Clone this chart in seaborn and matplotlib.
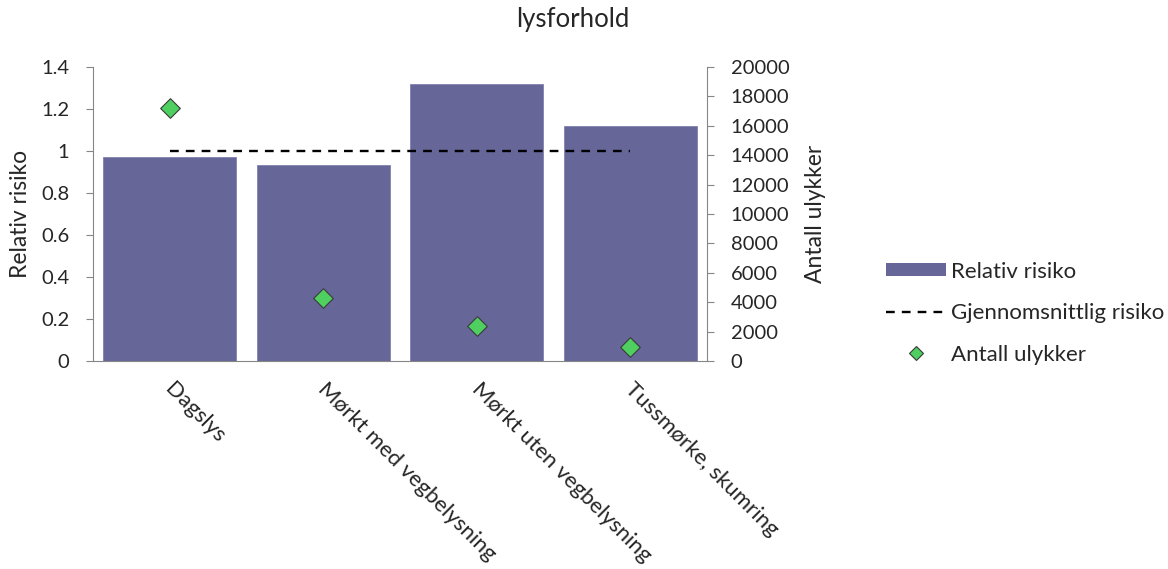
import matplotlib
matplotlib.use("Agg")
import matplotlib.pyplot as plt
import matplotlib.transforms as mtransforms
import seaborn as sns
import numpy as np
import pandas as pd
from matplotlib.patches import Patch
from matplotlib.lines import Line2D

# --- data -------------------------------------------------------------
categories = ["Dagslys", "Mørkt med vegbelysning", "Mørkt uten vegbelysning", "Tussmørke, skumring"]
relativ_risiko = [0.97, 0.932, 1.317, 1.117]
gjennomsnittlig_risiko = [1.0, 1.0, 1.0, 1.0]
antall_ulykker = [17200, 4300, 2360, 950]

risk_ticks = [0, 0.2, 0.4, 0.6, 0.8, 1.0, 1.2, 1.4]
count_ticks = list(range(0, 20001, 2000))

# --- style ------------------------------------------------------------
sns.set_theme(style="white")
plt.rcParams["font.family"] = ["Lato", "DejaVu Sans"]
FS_NUM = 14.5     # tick numbers
FS_TXT = 16.5     # axis labels
FS_CAT = 16.0     # category names
FS_LEG = 16.0
FS_TITLE = 18.5
AXIS_GRAY = "#868686"
BAR_COLOR = "#666699"
DIAMOND_COLOR = "#4fcf5f"

df = pd.DataFrame({"kategori": categories, "risiko": relativ_risiko,
                   "snitt": gjennomsnittlig_risiko, "ulykker": antall_ulykker,
                   "pos": np.arange(len(categories))})

fig = plt.figure(figsize=(11.68, 5.69), dpi=100)
ax = fig.add_axes([93 / 1168, 1 - 361 / 569, (707 - 93) / 1168, (361 - 67) / 569])

sns.barplot(data=df, x="kategori", y="risiko", ax=ax, color=BAR_COLOR,
            saturation=1, width=0.867, edgecolor="#8080b0", linewidth=0.6)
sns.lineplot(data=df, x="pos", y="snitt", ax=ax, color="black",
             linewidth=1.7, dashes=False, zorder=4)
ax.lines[-1].set_dashes((3.7, 3.0))

ax2 = ax.twinx()
sns.scatterplot(data=df, x="pos", y="ulykker", ax=ax2, marker="D",
                s=100, color=DIAMOND_COLOR, edgecolor="#3a3a3a", linewidth=0.8,
                zorder=5)

ax.set_xlim(-0.5, 3.5)
ax.set_ylim(0, 1.4)
ax2.set_ylim(0, 20000)
ax.set_xlabel("")
ax.set_ylabel("Relativ risiko", fontsize=FS_TXT, labelpad=7)
ax2.set_ylabel("Antall ulykker", fontsize=FS_TXT, labelpad=11)

ax.set_yticks(risk_ticks)
ax.set_yticklabels([f"{v:g}" for v in risk_ticks], fontsize=FS_NUM)
ax2.set_yticks(count_ticks)
ax2.set_yticklabels([str(v) for v in count_ticks], fontsize=FS_NUM)

ax.set_xticks(range(len(categories)))
ax.set_xticklabels(categories, fontsize=FS_CAT)
ax.set_xticks(np.arange(-0.5, len(categories), 1.0), minor=True)
ax.tick_params(axis="x", which="major", length=0, pad=15)
ax.tick_params(axis="x", which="minor", length=6, color=AXIS_GRAY, width=0.8,
               direction="out")
shift = mtransforms.ScaledTranslation(5 / 100, 3 / 100, fig.dpi_scale_trans)
for lab in ax.get_xticklabels():
    lab.set_rotation(-45)
    lab.set_ha("left")
    lab.set_va("top")
    lab.set_rotation_mode("anchor")
    lab.set_transform(lab.get_transform() + shift)

ax.tick_params(axis="y", length=5, color=AXIS_GRAY, width=0.8, pad=12,
               direction="out", left=True)
ax2.tick_params(axis="y", length=5, color=AXIS_GRAY, width=0.8, pad=12,
                direction="out", right=True)

for a in (ax, ax2):
    a.spines["top"].set_visible(False)
    for side in ("left", "right", "bottom"):
        a.spines[side].set_color(AXIS_GRAY)
        a.spines[side].set_linewidth(0.8)
ax.spines["right"].set_visible(False)
ax2.spines["left"].set_visible(False)
ax2.spines["bottom"].set_visible(False)

for a in (ax, ax2):
    if a.get_legend() is not None:
        a.get_legend().remove()

fig.text(573 / 1168, 1 - 20 / 569, "lysforhold", ha="center", va="center",
         fontsize=FS_TITLE)

handles = [
    Patch(facecolor=BAR_COLOR, edgecolor="none"),
    Line2D([0], [0], color="black", linewidth=1.7, dashes=(3.7, 3.0)),
    Line2D([0], [0], marker="D", linestyle="none", markersize=7,
           markerfacecolor=DIAMOND_COLOR, markeredgecolor="#3a3a3a",
           markeredgewidth=0.8),
]
labels = ["Relativ risiko", "Gjennomsnittlig risiko", "Antall ulykker"]
fig.legend(handles, labels, loc="upper left",
           bbox_to_anchor=(870 / 1168, 1 - 246 / 569), frameon=False,
           fontsize=FS_LEG, handlelength=2.7, handleheight=0.55,
           handletextpad=0.25, labelspacing=0.97, borderpad=0.2)

fig.savefig("out.png", dpi=100, facecolor="white")
